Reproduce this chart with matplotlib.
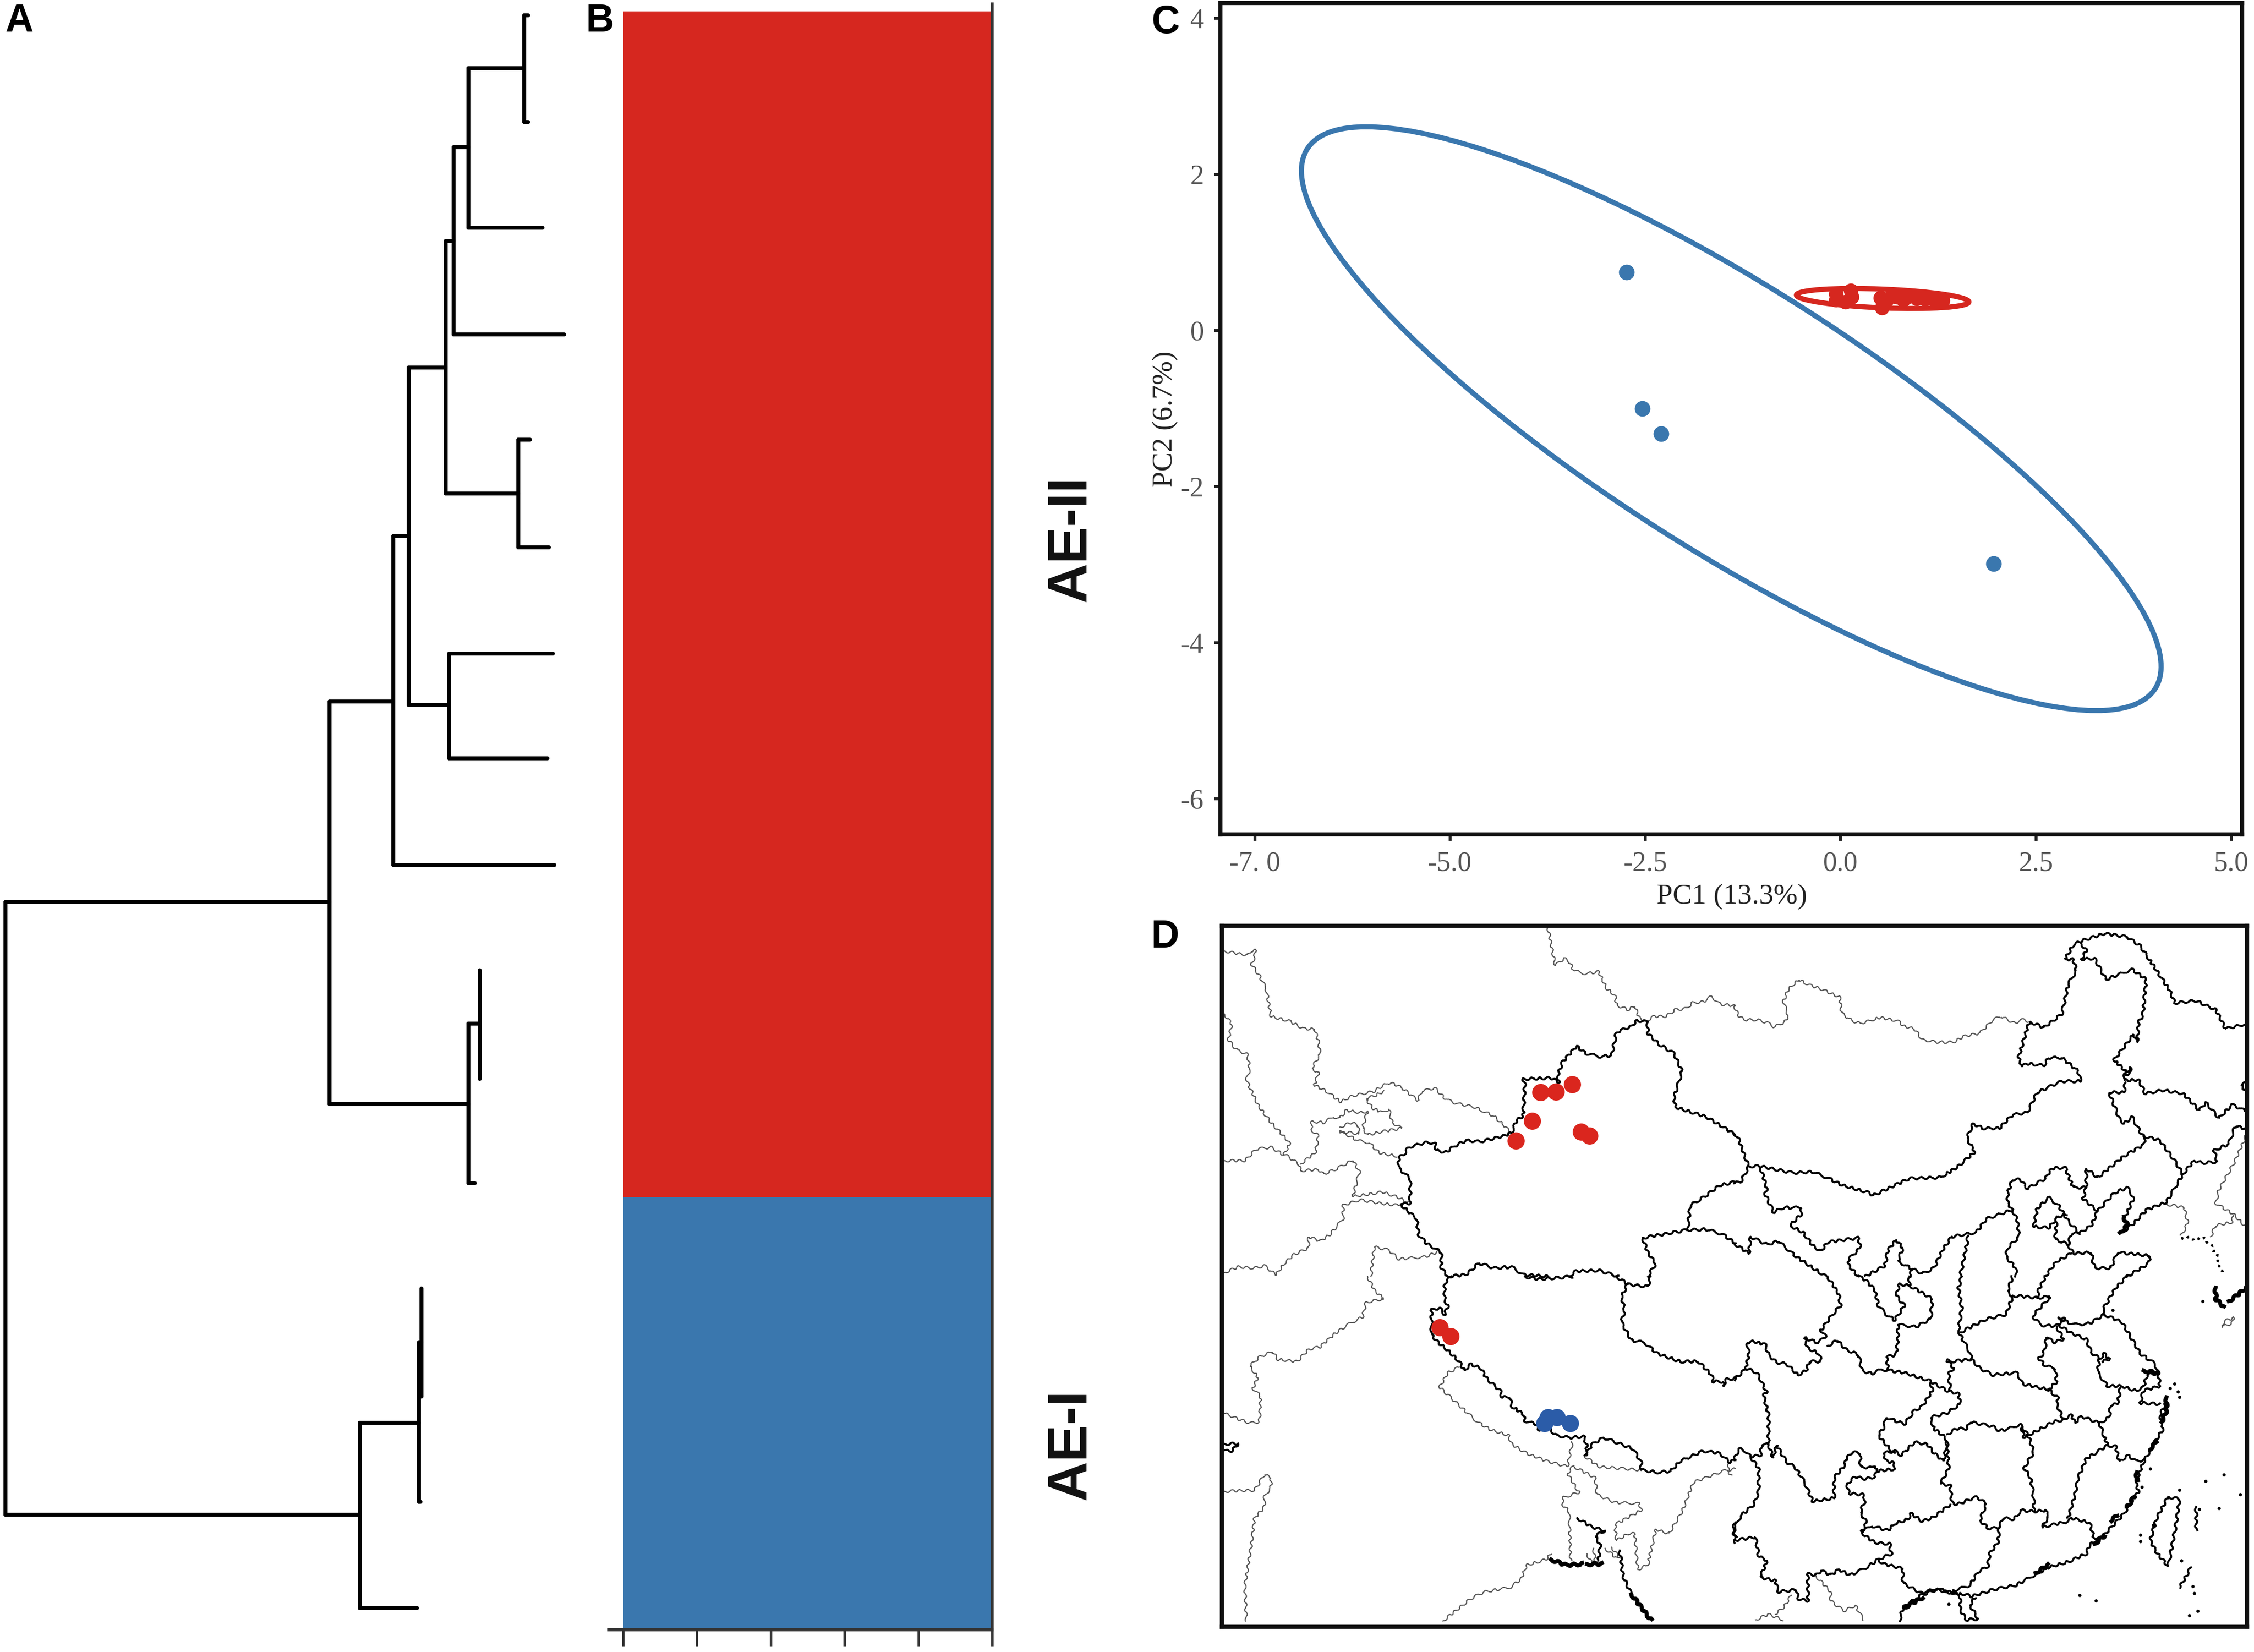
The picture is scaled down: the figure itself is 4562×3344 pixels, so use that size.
import matplotlib
matplotlib.use("Agg")
from matplotlib import pyplot as plt
from matplotlib.patches import Ellipse

plt.rcParams['axes.unicode_minus'] = False

W, H = 4562, 3344
RED = '#D6271F'
BLUE = '#3A77AE'
MAP_RED = '#DA261E'
MAP_BLUE = '#2B5CA8'

# ---- panel A: tree clades (x of the stem, y of both branches, x where each branch ends)
clade_x = [1061, 948, 918, 902, 1049, 827, 909, 796, 667, 948, 971, 11, 728, 848, 853]
clade_top = [31, 138, 298, 488, 890, 744, 1323, 1085, 1420, 2072, 1964, 1826, 2880, 2717, 2608]
clade_bottom = [247, 461, 677, 999, 1108, 1427, 1535, 1751, 2235, 2395, 2184, 3066, 3255, 3040, 2827]
top_end = [1069, 1061, 948, 918, 1073, 902, 1119, 827, 796, 971, 971, 667, 848, 853, 853]
bottom_end = [1069, 1098, 1142, 1049, 1111, 909, 1108, 1122, 948, 961, 971, 728, 844, 851, 853]

# ---- panel B: samples per cluster
cluster_names = ['AE-I', 'AE-II']
cluster_counts = [4, 11]
cluster_colors = [BLUE, RED]
structure_ticks = [0, 0.2, 0.4, 0.6, 0.8, 1.0]

# ---- panel C: PCA
pc1_blue = [-2.74, -2.54, -2.30, 1.96]
pc2_blue = [0.745, -1.0, -1.32, -2.99]
pc1_red = [-0.06, 0.13, -0.06, 0.06, 0.145, 0.53, 0.51, 0.59, 0.65, 0.72, 0.80, 0.85, 0.97, 1.08, 1.20, 1.31]
pc2_red = [0.47, 0.51, 0.395, 0.37, 0.43, 0.29, 0.415, 0.395, 0.44, 0.43, 0.39, 0.43, 0.41, 0.405, 0.39, 0.385]
xticks_c = [-7.5, -5.0, -2.5, 0.0, 2.5, 5.0]
xticklabels_c = ['-7. 0', '-5.0', '-2.5', '0.0', '2.5', '5.0']
yticks_c = [4, 2, 0, -2, -4, -6]

# ---- panel D: map traced in four sheets, each sheet is 1568 units square
nw_thin = [
    [(8,113),(40,122),(78,132),(88,113),(103,110),(100,140),(90,170),(115,225),(135,280),(150,405),(205,425),(250,460),(283,462),(295,520),(300,575),(275,635),(295,660),(283,712),(320,740),(362,787),(400,760),(465,740),(490,715),(515,700),(550,725),(598,780),(610,740),(650,725),(680,770),(705,790),(770,810),(830,850),(860,890),(885,930)],
    [(995,5),(1018,178),(1045,145),(1060,160),(1075,200),(1110,215),(1150,205),(1175,280),(1200,310),(1205,355),(1240,375),(1260,360),(1275,415),(1290,425)],
    [(1295,425),(1320,405),(1355,405),(1385,375),(1420,370),(1435,345),(1470,340),(1495,315),(1520,350),(1568,358)],
    [(8,395),(30,440),(20,510),(45,555),(78,575),(85,640),(75,690),(110,800),(150,880),(195,950),(207,975),(190,1020),(235,1065),(240,1095)],
    [(8,1050),(70,1050),(105,998),(150,990),(190,1025)],
    [(240,1065),(285,1015),(295,940),(272,910),(275,875),(310,880),(340,855),(360,860),(380,825),(420,835),(445,830),(435,875),(430,905),(445,935),(490,920),(550,905),(520,880),(510,820),(490,835),(460,815),(440,775),(465,760),(495,740)],
    [(360,900),(395,880),(415,890),(420,930),(360,920),(370,925),(415,960),(450,970),(480,1015),(535,1030)],
    [(240,1095),(295,1090),(310,1110),(345,1090),(400,1048),(420,1100),(400,1210),(490,1190),(540,1215),(570,1240)],
    [(540,1250),(480,1240),(420,1225),(370,1250),(370,1310),(330,1380),(300,1410),(265,1390),(265,1440),(220,1470),(190,1510),(165,1560)],
    [(8,1550),(50,1525),(100,1530),(130,1520),(165,1560)],
    [(455,1568),(465,1435),(510,1450),(540,1490),(620,1480),(665,1455)],
]
nw_thick = [
    [(1300,430),(1268,423),(1250,450),(1205,475),(1190,580),(1155,585),(1110,570),(1083,538),(1040,610),(1025,670),(1030,700),(1005,680),(920,685),(925,710),(920,850),(900,870),(885,925),(860,940),(790,965),(745,960),(705,990),(685,1012),(655,1005),(650,970),(620,970),(570,990),(555,1025),(540,1035),(540,1085),(575,1130),(575,1240),(545,1245),(595,1310),(600,1380),(625,1420),(670,1460),(670,1530),(690,1568)],
    [(1300,430),(1300,480),(1335,530),(1380,570),(1405,650),(1380,770),(1385,810),(1480,855),(1530,900),(1568,935)],
    [(1568,1145),(1520,1160),(1475,1210),(1430,1250),(1422,1360)],
    [(1285,1395),(1420,1360),(1480,1357),(1530,1380),(1568,1420)],
    [(1285,1395),(1300,1460),(1325,1510),(1300,1568)],
    [(690,1568),(745,1560),(785,1508),(830,1530),(885,1525),(920,1560),(1000,1568)],
    [(1060,1568),(1080,1545),(1150,1540),(1210,1568)],
]
ne_thin = [
    [(0,355),(12,400),(30,420),(70,420),(100,432),(122,452),(155,430),(165,400),(150,340),(165,285),(197,240),(230,265),(270,285),(322,320),(328,390),(360,425),(385,437),(445,410),(500,425),(520,450),(550,460),(575,510),(620,520),(670,520),(700,495),(750,480),(790,420),(815,405),(855,435),(880,420),(905,430)],
    [(1565,930),(1530,1050),(1480,1180),(1470,1240),(1525,1290),(1565,1350)],
    [(1525,1295),(1520,1325),(1470,1340),(1455,1390)],
    [(1320,1245),(1375,1260),(1385,1330),(1365,1385)],
]
ne_thick = [
    [(905,430),(945,455),(1000,395),(1005,365),(1020,260),(1045,200),(1035,150),(1010,150),(1035,85),(1065,65),(1130,35),(1200,50),(1240,90),(1290,200),(1330,290),(1345,345),(1410,335),(1470,375),(1500,460),(1560,440)],
    [(1060,80),(1075,110),(1060,150),(1100,145),(1135,240),(1215,195),(1258,240),(1248,400),(1235,430),(1230,520),(1220,485),(1160,600),(1195,650),(1190,690),(1235,690),(1255,750),(1310,735),(1370,750),(1420,825),(1440,790),(1480,860),(1520,800),(1565,830)],
    [(1195,655),(1210,635),(1210,660),(1195,665)],
    [(45,1075),(80,1075),(180,1105),(240,1100),(290,1130),(330,1160),(405,1190),(425,1205),(535,1130),(630,1125),(680,1080),(735,1010),(710,950),(730,885),(760,905),(810,905),(850,845),(895,835),(925,745),(1000,695),(1058,695),(1050,650),(1000,590),(960,590),(945,625),(890,615),(880,630),(868,590),(900,432)],
    [(1195,700),(1190,745),(1145,745),(1175,860),(1190,885),(1215,855),(1245,935),(1255,945),(1250,980),(1190,1030),(1110,1125),(1075,1085),(1075,1170),(1035,1170),(1010,1080),(970,1085),(950,1130),(895,1175),(875,1135),(850,1135),(835,1195),(835,1240),(850,1270),(770,1310),(740,1370),(665,1390)],
    [(1250,940),(1300,960),(1340,1040),(1370,1110),(1320,1235),(1260,1270),(1220,1330),(1195,1360)],
    [(1370,1110),(1405,1050),(1430,1060),(1475,1055),(1465,1005),(1510,975),(1530,895),(1568,910)],
    [(1075,1170),(1065,1220),(1110,1275),(1160,1195),(1200,1170),(1220,1215),(1195,1300)],
    [(1110,1275),(1090,1340),(1055,1375),(1020,1320),(990,1250),(960,1215),(925,1265),(915,1345),(960,1350),(990,1300),(1015,1290)],
    [(985,1300),(980,1400),(1020,1425),(1030,1375),(1055,1375)],
    [(1020,1425),(1035,1465),(1090,1460),(1100,1530),(1150,1530),(1170,1460),(1270,1475),(1265,1510),(1200,1568)],
    [(1030,1465),(985,1500),(950,1568)],
    [(0,930),(10,940),(40,1060),(45,1075),(20,1145),(0,1150)],
    [(80,1080),(100,1175),(95,1200),(120,1280),(150,1260),(205,1260),(205,1290),(170,1340),(210,1370),(240,1430),(265,1455),(285,1415),(380,1395),(385,1440),(350,1490),(350,1520),(380,1568)],
    [(0,1420),(45,1465),(50,1390),(100,1425),(135,1410),(190,1480),(280,1568)],
    [(665,1390),(640,1440),(610,1530),(575,1555),(545,1535),(500,1500),(515,1440),(495,1405),(470,1450),(460,1520),(400,1568)],
    [(545,1535),(535,1568)],
    [(715,1385),(700,1500),(690,1568)],
    [(850,1270),(865,1320),(870,1390),(835,1440),(830,1480),(860,1530),(860,1568)],
    [(1568,700),(1548,710),(1565,750)],
]
sw_thin = [
    [(445,0),(465,60),(495,100),(440,115),(430,180),(385,215),(345,255),(300,315),(265,325),(230,380),(170,370),(155,335),(115,360),(85,400),(110,450),(95,500),(118,535),(115,650),(85,655),(45,635),(8,612)],
    [(725,405),(690,430),(665,495),(720,570),(780,650),(820,685),(875,710),(885,750),(930,790),(990,825),(1055,850),(1070,740)],
    [(1105,800),(1150,850),(1280,865)],
    [(1075,845),(1055,880),(1090,965),(1040,990),(1040,1020),(1060,1050),(1065,1270)],
    [(1075,850),(1140,900),(1145,975),(1200,1010),(1275,1015),(1280,1045),(1200,1110),(1205,1180),(1240,1150),(1260,1150),(1270,1310),(1300,1290),(1325,1130),(1365,1150),(1405,1050),(1440,920),(1530,870),(1568,860)],
    [(1550,830),(1545,870),(1555,890)],
    [(8,960),(100,955),(130,885),(150,900),(150,940),(130,985),(130,1030),(100,1080),(90,1200),(70,1380),(75,1540)],
    [(675,1540),(760,1440),(800,1410),(880,1390),(915,1350),(930,1290),(990,1265),(1005,1240)],
    [(1115,1240),(1130,1285)], [(1135,1215),(1140,1280)], [(1170,1215),(1205,1260)], [(1190,1210),(1215,1260)],
]
sw_thick = [
    [(700,0),(680,30),(680,100),(690,135),(680,170),(665,140),(640,150),(640,190),(640,260),(660,295),(690,330),(725,380),(740,420),(760,392),(790,410),(810,460),(850,510),(855,540),(880,540),(885,580),(920,615),(925,645),(960,660),(970,690),(1000,680),(1020,710),(1060,720),(1105,715),(1115,760),(1110,800),(1130,750),(1165,720),(1210,745),(1255,770),(1280,830),(1280,865),(1330,875),(1370,870),(1400,825),(1470,780),(1520,790),(1550,830),(1568,820)],
    [(925,0),(965,12),(1030,5),(1070,0)],
    [(1205,0),(1240,35),(1300,45),(1310,0)],
    [(1240,30),(1220,90),(1230,150),(1220,205),(1250,285),(1290,295),(1330,345),(1400,380),(1455,380),(1495,440),(1500,470),(1530,470),(1530,490),(1540,460),(1568,455)],
    [(1568,1100),(1560,1130),(1568,1190)],
    [(8,748),(50,748),(30,780),(8,780)],
    [(1085,1080),(1130,1120),(1170,1135),(1140,1160),(1155,1200),(1150,1270)],
    [(1215,1225),(1225,1340),(1250,1420)],
]
se_thin = [
    [(250,1340),(295,1410),(295,1450),(335,1495),(370,1470),(395,1535)],
    [(65,1535),(105,1510),(150,1535)],
    [(175,1425),(150,1480),(125,1510)],
    [(1490,220),(1495,200),(1525,185),(1520,210),(1490,225)],
]
se_thick = [
    [(285,0),(320,80),(325,130),(300,170),(265,240),(280,270),(255,295),(215,275),(225,320),(260,345),(265,380),(230,380),(220,420),(195,440),(160,390),(130,385),(105,350),(95,305),(60,290),(40,295),(45,350),(35,410),(70,430),(100,520),(90,530),(105,620),(105,750),(85,750),(80,800),(50,805),(30,775),(15,770),(0,820)],
    [(35,415),(0,460)],
    [(105,750),(118,810),(130,755),(160,830),(185,850),(215,920),(240,1005),(305,990),(305,900),(340,840),(340,820),(360,785),(385,790),(385,850),(415,855),(430,845),(435,870),(490,860),(490,835),(465,825),(455,790),(490,780),(510,800),(550,740),(590,750),(610,790),(640,825),(650,735)],
    [(285,310),(315,285),(340,325),(380,350),(390,420),(420,435),(450,415),(520,430),(595,465),(650,510),(685,525),(690,570),(650,610),(600,630),(610,680),(645,720),(650,735),(655,860),(630,925),(660,935),(665,1010),(680,1020),(740,985),(770,1015),(750,1090),(780,1130),(810,1120),(820,1080),(855,1085),(875,1045),(915,1050),(950,1045),(960,1075),(940,1120),(1020,1095),(1030,1080),(1085,1100),(1100,1175)],
    [(600,470),(605,510),(575,580),(550,600),(520,660),(465,630),(455,680),(440,710),(475,770),(490,790)],
    [(535,0),(535,40),(505,35),(495,85),(520,130),(490,195),(465,170),(440,130),(430,60),(400,15),(380,0)],
    [(535,40),(605,100),(600,190),(555,225),(500,215),(500,280),(495,350),(465,360),(470,420)],
    [(660,380),(650,375),(670,410),(655,435),(660,510)],
    [(660,380),(725,370),(750,410),(790,440),(865,430),(880,480),(960,505),(990,545),(985,570),(1005,640),(1030,620),(1040,655),(1060,625),(1115,655),(1140,755),(1075,815),(1050,900),(1040,980),(1020,1080)],
    [(695,0),(685,50),(695,140),(685,240),(690,260),(720,340),(725,370)],
    [(690,250),(770,190),(830,170),(850,90),(835,65),(850,0)],
    [(850,85),(925,95),(965,90),(915,170),(915,190),(945,220),(985,220),(1010,190),(990,185)],
    [(925,95),(930,60),(950,0)],
    [(985,225),(1005,280),(975,295),(955,270),(945,345),(930,365),(950,400),(980,410),(985,470),(960,505)],
    [(990,215),(1025,250),(1075,280),(1090,340),(1115,365),(1110,430),(1140,490),(1185,490),(1225,510),(1250,495),(1260,440),(1295,430)],
    [(1130,170),(1185,205),(1240,345),(1285,390),(1295,430),(1300,490),(1250,510),(1240,565),(1300,570)],
    [(1200,0),(1165,50),(1125,150),(1130,170),(1085,210),(1040,215),(990,190)],
    [(1115,370),(1130,345),(1145,370),(1125,380)],
    [(1180,495),(1170,570),(1150,575),(1145,630),(1115,655)],
    [(1140,755),(1165,760),(1175,825),(1205,800),(1225,825),(1255,820)],
    [(880,670),(900,720),(915,785),(885,855),(905,900),(915,990),(915,1050)],
    [(650,705),(680,680),(710,680),(720,650),(790,670),(810,690),(840,680),(875,660),(885,720),(910,700),(975,650),(1005,640)],
    [(345,925),(370,895),(400,905),(430,895),(435,870)],
    [(345,925),(350,970),(395,975),(400,1000),(385,1055),(405,1100),(390,1140),(420,1115),(470,1135),(490,1105),(530,1085),(540,1060),(575,1095),(610,1075),(660,1020)],
    [(390,1140),(400,1160),(430,1190),(475,1195),(480,1240),(440,1265),(405,1300),(355,1335),(320,1310),(295,1335),(265,1315),(250,1335),(225,1330),(225,1450),(195,1440),(190,1400),(135,1410),(125,1360),(80,1345),(100,1270),(75,1250),(65,1165),(0,1180)],
    [(50,805),(75,860),(75,960),(60,1020),(20,1070),(0,1130),(5,1165)],
    [(440,1265),(455,1285),(515,1305),(515,1370),(570,1415),(620,1395),(680,1420)],
    [(810,1120),(805,1190),(780,1240),(775,1295),(745,1320),(720,1380),(670,1405),(680,1425)],
    [(690,1415),(725,1430),(790,1400),(860,1380),(910,1340),(960,1300),(1020,1275),(1075,1240),(1085,1200),(1130,1155),(1190,1060),(1235,960),(1225,920),(1250,830),(1280,750),(1310,680),(1300,620),(1320,560)],
    [(690,1415),(690,1490),(710,1535),(745,1530),(720,1470),(735,1435)],
    [(680,1420),(620,1400),(570,1425),(515,1480),(505,1540)],
    [(1325,985),(1360,995),(1350,1100),(1335,1220),(1325,1295),(1290,1235),(1270,1180),(1290,1080),(1325,985)],
    [(1410,1030),(1410,1135)],
    [(1395,1300),(1360,1390)],
]
# broken up coast stretches and island chains
se_heavy = [
    [(1250,420),(1290,432)],
    [(1320,540),(1320,600),(1305,650)],
    [(1290,740),(1270,770)],
    [(1230,875),(1230,910)],
    [(1222,985),(1200,1030)],
    [(1170,1070),(1150,1090)],
    [(1100,1195),(1130,1160)],
    [(920,1325),(960,1290)],
    [(520,1480),(575,1435)],
    [(1470,50),(1470,100),(1495,135)],
    [(1510,110),(1530,90),(1568,45)],
]
ne_heavy = [
    [(1190,1300),(1200,1340),(1180,1375)],
]
ne_dotted = [
    [(1365,1395),(1440,1400),(1470,1460),(1490,1560)],
]
sw_heavy = [
    [(1005,1265),(1050,1290),(1100,1285)],
    [(1115,1285),(1160,1285)],
    [(1250,1420),(1310,1535)],
]
se_specks_x = [1430,1155,1345,1330,1355,1360,1440,1495,1360,1545,1480,1420,1240,1240,1365,1105,1055,1390,1415,1405,1400,655,1270,1245,1280]
se_specks_y = [110,150,480,500,515,540,915,885,955,975,1035,1040,1155,1185,1270,1450,1425,1515,1495,1415,1385,1465,860,940,1110]

# sampling sites on the map, in sheet-wide units
site_red_x = [973,1020,1070,947,898,1097,1122,665,698]
site_red_y = [745,742,708,872,960,922,938,1796,1836]
site_blue_x = [995,985,1022,1063]
site_blue_y = [2198,2223,2198,2225]

SHEET_X = 1564
SHEET_Y = 1568


def axes_px(left, top, right, bottom):
    # rectangle in reference pixels -> figure axes
    return fig.add_axes([left / W, 1 - bottom / H, (right - left) / W, (bottom - top) / H])


def draw_lines(ax, lines, col, row, **style):
    for line in lines:
        xs = [p[0] + col * SHEET_X for p in line]
        ys = [p[1] + row * SHEET_Y for p in line]
        drawn, = ax.plot(xs, ys, solid_joinstyle='round', **style)
        # borders are traced coarsely, the sketch style gives them their jagged look
        drawn.set_sketch_params(scale=2.5, length=22, randomness=3)


fig = plt.figure(figsize=(W / 300, H / 300), dpi=300, facecolor='white')

# A
ax_a = axes_px(0, 0, 1230, 3344)
ax_a.set_xlim(0, 1230)
ax_a.set_ylim(3344, 0)
ax_a.axis('off')
for i in range(len(clade_x)):
    style = dict(color='black', lw=1.9, solid_capstyle='round')
    ax_a.plot([clade_x[i], clade_x[i]], [clade_top[i], clade_bottom[i]], **style)
    ax_a.plot([clade_x[i], top_end[i]], [clade_top[i], clade_top[i]], **style)
    ax_a.plot([clade_x[i], bottom_end[i]], [clade_bottom[i], clade_bottom[i]], **style)

# B
ax_b = axes_px(1232, 8, 2008, 3299)
ax_b.set_xlim(-0.0388, 1)
ax_b.set_ylim(-0.014, 15.07)
bottom = 0
for count, color in zip(cluster_counts, cluster_colors):
    ax_b.bar(0.5, count, width=1, bottom=bottom, color=color, linewidth=0)
    bottom += count
ax_b.spines['left'].set_visible(False)
ax_b.spines['top'].set_visible(False)
for side in ['right', 'bottom']:
    ax_b.spines[side].set_linewidth(1.5)
    ax_b.spines[side].set_color('#333333')
ax_b.set_xticks(structure_ticks)
ax_b.set_xticklabels([])
ax_b.set_yticks([])
ax_b.tick_params(axis='x', length=8.2, width=1.2, color='#333333')
fig.text(2168 / W, 1 - 1091 / H, cluster_names[1], rotation=90, ha='center', va='center',
         family='Liberation Sans', weight='bold', fontsize=27, color='#111111')
fig.text(2168 / W, 1 - 2925 / H, cluster_names[0], rotation=90, ha='center', va='center',
         family='Liberation Sans', weight='bold', fontsize=27, color='#111111')

# C
ax_c = axes_px(2470, 6, 4538, 1689)
ax_c.set_xlim(-7.94, 5.14)
ax_c.set_ylim(-6.456, 4.196)
ax_c.add_patch(Ellipse((-1.40, -1.13), 12.87, 3.38, angle=-32.5, fill=False, edgecolor=BLUE, lw=2.5))
ax_c.add_patch(Ellipse((0.538, 0.41), 2.21, 0.24, angle=-2.3, fill=False, edgecolor=RED, lw=2.5))
ax_c.scatter(pc1_blue, pc2_blue, s=58, color=BLUE, linewidths=0, zorder=3)
ax_c.scatter(pc1_red, pc2_red, s=50, color=RED, linewidths=0, zorder=3)
ax_c.set_xticks(xticks_c)
ax_c.set_xticklabels(xticklabels_c)
ax_c.set_yticks(yticks_c)
ax_c.tick_params(length=3, width=1.4, color='#222222', labelcolor='#555555', labelsize=13.5, pad=5)
for label in ax_c.get_xticklabels() + ax_c.get_yticklabels():
    label.set_family('Liberation Serif')
for spine in ax_c.spines.values():
    spine.set_linewidth(2)
    spine.set_color('#111111')
fig.text(3505 / W, 1 - 1815 / H, 'PC1 (13.3%)', ha='center', va='center',
         family='Liberation Serif', fontsize=14, color='#222222')
fig.text(2358 / W, 1 - 848 / H, 'PC2 (6.7%)', rotation=90, ha='center', va='center',
         family='Liberation Serif', fontsize=14, color='#222222')

# D
ax_d = axes_px(2473, 1874, 4548, 3293)
ax_d.set_xlim(0, 3130)
ax_d.set_ylim(3134, 0)
ax_d.set_xticks([])
ax_d.set_yticks([])
for spine in ax_d.spines.values():
    spine.set_linewidth(2)
    spine.set_color('#111111')
thin = dict(color='#555555', lw=0.55)
thick = dict(color='black', lw=0.95)
heavy = dict(color='black', lw=1.9)
dotted = dict(color='black', lw=1.2, linestyle=':')
draw_lines(ax_d, nw_thin, 0, 0, **thin)
draw_lines(ax_d, nw_thick, 0, 0, **thick)
draw_lines(ax_d, ne_thin, 1, 0, **thin)
draw_lines(ax_d, ne_thick, 1, 0, **thick)
draw_lines(ax_d, ne_heavy, 1, 0, **heavy)
draw_lines(ax_d, ne_dotted, 1, 0, **dotted)
draw_lines(ax_d, sw_thin, 0, 1, **thin)
draw_lines(ax_d, sw_thick, 0, 1, **thick)
draw_lines(ax_d, sw_heavy, 0, 1, **heavy)
draw_lines(ax_d, se_thin, 1, 1, **thin)
draw_lines(ax_d, se_thick, 1, 1, **thick)
draw_lines(ax_d, se_heavy, 1, 1, **heavy)
ax_d.scatter([x + SHEET_X for x in se_specks_x], [y + SHEET_Y for y in se_specks_y],
             s=2.5, color='black', linewidths=0)
ax_d.scatter(site_red_x, site_red_y, s=70, color=MAP_RED, linewidths=0, zorder=4)
ax_d.scatter(site_blue_x, site_blue_y, s=70, color=MAP_BLUE, linewidths=0, zorder=4)

# panel letters
for letter, x, y in [('A', 39, 43), ('B', 1214, 43), ('C', 2359, 46), ('D', 2358, 1897)]:
    fig.text(x / W, 1 - y / H, letter, ha='center', va='center',
             family='Liberation Sans', weight='bold', fontsize=19, color='black')

fig.savefig('out.png', dpi=300)
plt.close(fig)
